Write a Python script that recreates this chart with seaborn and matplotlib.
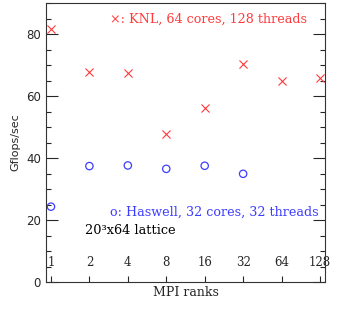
import matplotlib
matplotlib.use("Agg")
import matplotlib.pyplot as plt
import pandas as pd
import seaborn as sns
from matplotlib.ticker import MultipleLocator, FixedLocator, NullLocator

# MPI ranks vs. Gflops/sec for the two machines
knl_ranks = [1, 2, 4, 8, 16, 32, 64, 128]
knl_gflops = [81.6, 67.6, 67.4, 47.8, 56.1, 70.4, 64.8, 65.9]

haswell_ranks = [1, 2, 4, 8, 16, 32]
haswell_gflops = [24.3, 37.4, 37.6, 36.5, 37.5, 34.9]

rank_labels = ["1", "2", "4", "8", "16", "32", "64", "128"]

RED = "#ff3b3b"
BLUE = "#3d3dff"

sns.set_style("ticks")
plt.rcParams["font.family"] = ["DejaVu Sans"]

df_knl = pd.DataFrame({"ranks": knl_ranks, "gflops": knl_gflops})
df_has = pd.DataFrame({"ranks": haswell_ranks, "gflops": haswell_gflops})

fig = plt.figure(figsize=(3.38, 3.10), dpi=100)
ax = fig.add_axes([0.136, 0.0903, 0.8255, 0.9])

sns.scatterplot(data=df_knl, x="ranks", y="gflops", marker="x", s=34,
                color=RED, linewidth=0.8, ax=ax, legend=False)
sns.scatterplot(data=df_has, x="ranks", y="gflops", marker="o", s=28,
                facecolors="none", edgecolor=BLUE, linewidth=0.9, ax=ax, legend=False)

ax.set_xscale("log", base=2)
ax.set_xlim(2 ** -0.13, 2 ** 7.13)
ax.set_ylim(0, 90)

for side in ["left", "right", "top", "bottom"]:
    ax.spines[side].set_linewidth(0.8)
    ax.spines[side].set_color("#333333")

ax.xaxis.set_major_locator(FixedLocator(knl_ranks))
ax.xaxis.set_minor_locator(NullLocator())
ax.set_xticklabels(rank_labels, family="DejaVu Serif", fontsize=8.5)
ax.tick_params(axis="x", which="major", direction="in", length=4.5, width=0.8,
               pad=-19, bottom=True, top=False)

ax.yaxis.set_major_locator(MultipleLocator(20))
ax.yaxis.set_minor_locator(MultipleLocator(5))
ax.tick_params(axis="y", which="major", direction="in", length=8.5, width=0.8,
               left=True, right=True, labelsize=8.5)
ax.tick_params(axis="y", which="minor", direction="in", length=3.5, width=0.8,
               left=True, right=True)

ax.set_xlabel("MPI ranks", family="DejaVu Serif", fontsize=9, labelpad=3)
ax.set_ylabel("Gflops/sec", fontsize=8, labelpad=4)

serif = ["DejaVu Serif", "DejaVu Sans"]
ax.text(0.229, 0.943, "×: KNL, 64 cores, 128 threads", transform=ax.transAxes,
        color=RED, family=serif, fontsize=9.2, va="center", ha="left")
ax.text(0.229, 0.251, "o: Haswell, 32 cores, 32 threads", transform=ax.transAxes,
        color=BLUE, family=serif, fontsize=9.2, va="center", ha="left")
ax.text(0.14, 0.186, "20³x64 lattice", transform=ax.transAxes,
        color="black", family=serif, fontsize=9.3, va="center", ha="left")

fig.savefig("out.png", dpi=100)
